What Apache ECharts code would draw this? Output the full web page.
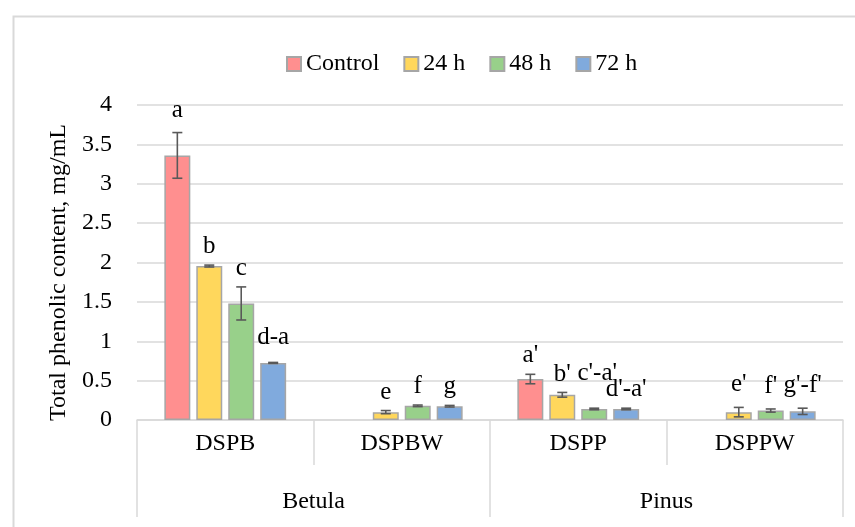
<!DOCTYPE html>
<html>
<head>
<meta charset="utf-8">
<script src="https://cdn.jsdelivr.net/npm/echarts@6/dist/echarts.min.js"></script>
<style>
  html, body { margin: 0; padding: 0; background: #ffffff; }
  #chart { width: 855px; height: 527px; }
</style>
</head>
<body>
<div id="chart"></div>
<script>
// Total phenolic content per extract and treatment time
const samples = ['DSPB', 'DSPBW', 'DSPP', 'DSPPW'];
const species = ['Betula', 'Pinus'];
const seriesNames = ['Control', '24 h', '48 h', '72 h'];

const controlValues = [3.36, null, 0.52, null];
const h24Values     = [1.955, 0.10, 0.32, 0.10];
const h48Values     = [1.48, 0.18, 0.14, 0.12];
const h72Values     = [0.725, 0.175, 0.14, 0.11];

const controlErr = [0.29, null, 0.06, null];
const h24Err     = [0.012, 0.02, 0.03, 0.06];
const h48Err     = [0.21, 0.01, 0.01, 0.02];
const h72Err     = [0.006, 0.01, 0.01, 0.04];

const controlLetters = ['a', '', "a'", ''];
const h24Letters     = ['b', 'e', "b'", "e'"];
const h48Letters     = ['c', 'f', "c'-a'", "f'"];
const h72Letters     = ['d-a', 'g', "d'-a'", "g'-f'"];

const yTicks = { min: 0, max: 4, interval: 0.5 };

const colors = ['#ff8f8f', '#ffd75c', '#98d08a', '#80aadd'];
const values = [controlValues, h24Values, h48Values, h72Values];
const errors = [controlErr, h24Err, h48Err, h72Err];
const letters = [controlLetters, h24Letters, h48Letters, h72Letters];

// extra lift (px) for letters that sit higher than the rest
const letterLift = { 'a': 4, 'd-a': 6, "c'-a'": 16, "e'": 4, "f'": 4, "g'-f'": 4 };
// small sideways nudge (px) for crowded letters
const letterShift = { "c'-a'": 3 };

const FONT = 'Liberation Serif';
const FS = 24;
const CAT_GAP = 0.31, BAR_GAP = 0.23, N = seriesNames.length;

const barSeries = seriesNames.map((name, i) => ({
  name: name,
  type: 'bar',
  xAxisIndex: 0,
  data: values[i],
  barCategoryGap: (CAT_GAP * 100) + '%',
  barGap: (BAR_GAP * 100) + '%',
  itemStyle: { color: colors[i], borderColor: '#a6a6a6', borderWidth: 1.5 }
}));

const errSeries = seriesNames.map((name, i) => ({
  name: 'err-' + name,
  type: 'custom',
  xAxisIndex: 0,
  z: 5,
  data: samples.map((s, j) => [j, values[i][j], errors[i][j]])
    .filter(d => d[1] != null),
  renderItem: function (params, api) {
    const idx = api.value(0), v = api.value(1), e = api.value(2);
    const lab = letters[i][idx];
    const band = api.size([1, 0])[0];
    const groupW = band * (1 - CAT_GAP);
    const bw = groupW / (N + (N - 1) * BAR_GAP);
    const base = api.coord([idx, 0]);
    const cx = base[0] - groupW / 2 + i * bw * (1 + BAR_GAP) + bw / 2;
    const yTop = api.coord([idx, v + e])[1];
    const yBot = api.coord([idx, v - e])[1];
    const cap = 5;
    const st = { stroke: '#595959', lineWidth: 1.6 };
    const lift = letterLift[lab] || 0;
    const shift = letterShift[lab] || 0;
    return {
      type: 'group',
      children: [
        { type: 'line', shape: { x1: cx, y1: yTop, x2: cx, y2: yBot }, style: st },
        { type: 'line', shape: { x1: cx - cap, y1: yTop, x2: cx + cap, y2: yTop }, style: st },
        { type: 'line', shape: { x1: cx - cap, y1: yBot, x2: cx + cap, y2: yBot }, style: st },
        { type: 'text', x: cx + shift, y: yTop - 6 - lift,
          style: { text: lab, fill: '#000', font: '25px "' + FONT + '"',
                   textAlign: 'center', textVerticalAlign: 'bottom' } }
      ]
    };
  }
}));

const chart = echarts.init(document.getElementById('chart'), null, { renderer: 'canvas' });
chart.setOption({
  animation: false,
  backgroundColor: '#ffffff',
  textStyle: { fontFamily: FONT },
  graphic: [{
    type: 'rect', left: 11, top: 14, z: -1,
    shape: { width: 860, height: 530 },
    style: { fill: 'none', stroke: '#d9d9d9', lineWidth: 2 }
  }],
  legend: {
    data: seriesNames,
    left: 281, top: 47,
    itemWidth: 14, itemHeight: 14, itemGap: 24,
    icon: 'rect',
    textStyle: { fontFamily: FONT, fontSize: FS, color: '#000' }
  },
  grid: { left: 137, right: 12, top: 105, bottom: 107 },
  xAxis: [
    {
      type: 'category', data: samples, position: 'bottom',
      axisLine: { lineStyle: { color: '#d9d9d9', width: 1.5 } },
      axisTick: { show: true, length: 45, interval: 0, lineStyle: { color: '#d9d9d9', width: 1.5 } },
      axisLabel: { fontFamily: FONT, fontSize: FS, color: '#000', margin: 12, interval: 0 },
      splitLine: { show: false }
    },
    {
      type: 'category', data: species, position: 'bottom',
      axisLine: { show: false },
      axisTick: { show: true, length: 97, interval: 0, lineStyle: { color: '#d9d9d9', width: 1.5 } },
      axisLabel: { fontFamily: FONT, fontSize: FS, color: '#000', margin: 70, interval: 0 },
      splitLine: { show: false }
    }
  ],
  yAxis: {
    type: 'value', min: yTicks.min, max: yTicks.max, interval: yTicks.interval,
    name: 'Total phenolic content, mg/mL',
    nameLocation: 'middle', nameGap: 62,
    nameTextStyle: { fontFamily: FONT, fontSize: FS, color: '#000', padding: [0, 20, 0, 0] },
    axisLine: { show: false }, axisTick: { show: false },
    axisLabel: { fontFamily: FONT, fontSize: FS, color: '#000', margin: 25 },
    splitLine: { lineStyle: { color: '#d9d9d9', width: 1.5 } }
  },
  series: barSeries.concat(errSeries)
});
</script>
</body>
</html>
